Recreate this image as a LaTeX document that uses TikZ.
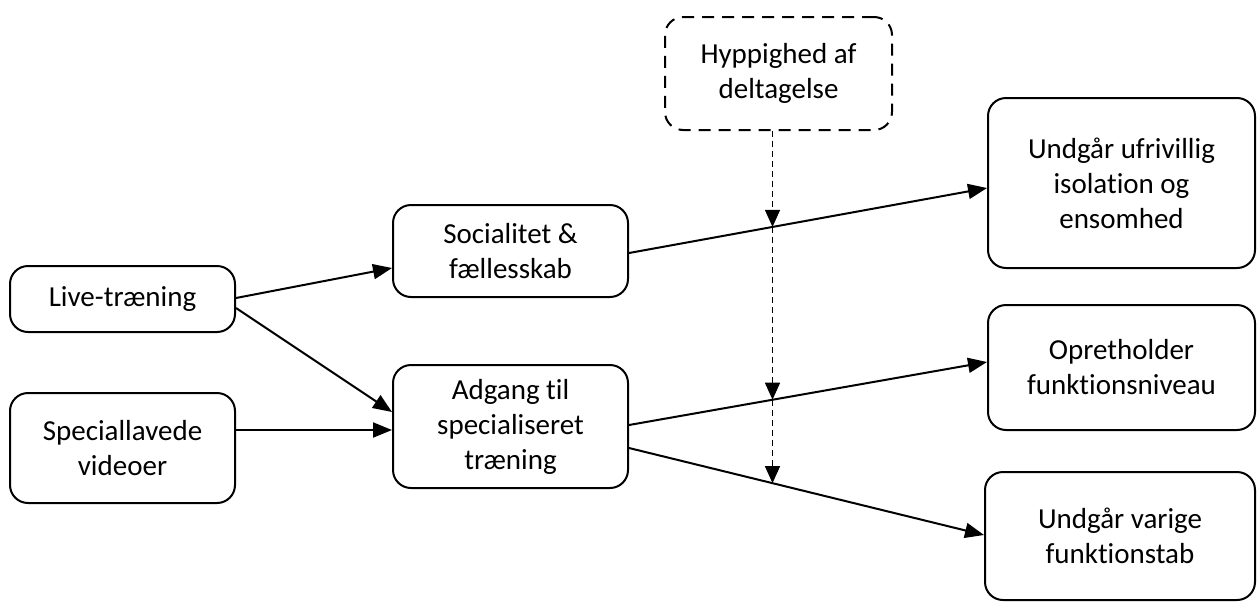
\documentclass[tikz,border=0pt]{standalone}
\usepackage{fontspec}
\setmainfont{Carlito}[Ligatures={NoCommon}]
\usetikzlibrary{arrows.meta,calc,intersections}
\begin{document}
\begin{tikzpicture}[x=1pt,y=-1pt,
  box/.style={draw,line width=2pt,rounded corners=18pt,align=center,inner sep=0pt,
    font=\fontsize{29}{35}\selectfont},
  dbox/.style={box,dash pattern=on 12pt off 8pt},
  conn/.style={line width=2pt,-{Triangle[length=19pt,width=15pt]}},
  modl/.style={line width=1.1pt,dash pattern=on 6pt off 4pt,-{Triangle[length=17pt,width=15pt]}}]
\useasboundingbox (0,0) rectangle (1257,603);
\node[box,minimum width=225pt,minimum height=66pt] (live) at (122.5,299) {Live-træning};
\node[box,minimum width=225pt,minimum height=110pt] (video) at (122.5,448) {Speciallavede\\videoer};
\node[box,minimum width=235pt,minimum height=92pt] (soc) at (510.5,251) {Socialitet \&\\fællesskab};
\node[box,minimum width=235pt,minimum height=123pt] (adg) at (510.5,426.5) {Adgang til\\specialiseret\\træning};
\node[box,minimum width=267pt,minimum height=170pt] (uf) at (1121.5,183) {Undgår ufrivillig\\isolation og\\ensomhed};
\node[box,minimum width=267pt,minimum height=125pt] (op) at (1121.5,367.5) {Opretholder\\funktionsniveau};
\node[box,minimum width=270pt,minimum height=128pt] (va) at (1120,536) {Undgår varige\\funktionstab};
\node[dbox,minimum width=227pt,minimum height=113pt] (hyp) at (778.5,73.5) {Hyppighed af\\deltagelse};
\draw[conn] ($(live.east)+(0,-1)$) -- ($(soc.west)+(0,17)$);
\draw[conn] ($(live.east)+(0,9)$) -- ($(adg.west)+(0,-14.5)$);
\draw[conn] ($(video.east)+(0,-18)$) -- ($(adg.west)+(0,3.5)$);
\draw[conn,name path=p1] ($(soc.east)+(0,2)$) -- ($(uf.west)+(0,5)$);
\draw[conn,name path=p2] ($(adg.east)+(0,-1.5)$) -- ($(op.west)+(0,-5.5)$);
\draw[conn,name path=p3] ($(adg.east)+(0,21.5)$) -- ($(va.west)+(0,-1)$);
\coordinate (m0) at ($(hyp.south)+(-6,0)$);
\path[name path=mv] (m0) -- ++(0,450);
\path[name intersections={of=mv and p1,by=i1}];
\path[name intersections={of=mv and p2,by=i2}];
\path[name intersections={of=mv and p3,by=i3}];
\draw[modl] (m0) -- (i1);
\draw[modl] (i1) -- (i2);
\draw[modl] (i2) -- (i3);
\end{tikzpicture}
\end{document}
